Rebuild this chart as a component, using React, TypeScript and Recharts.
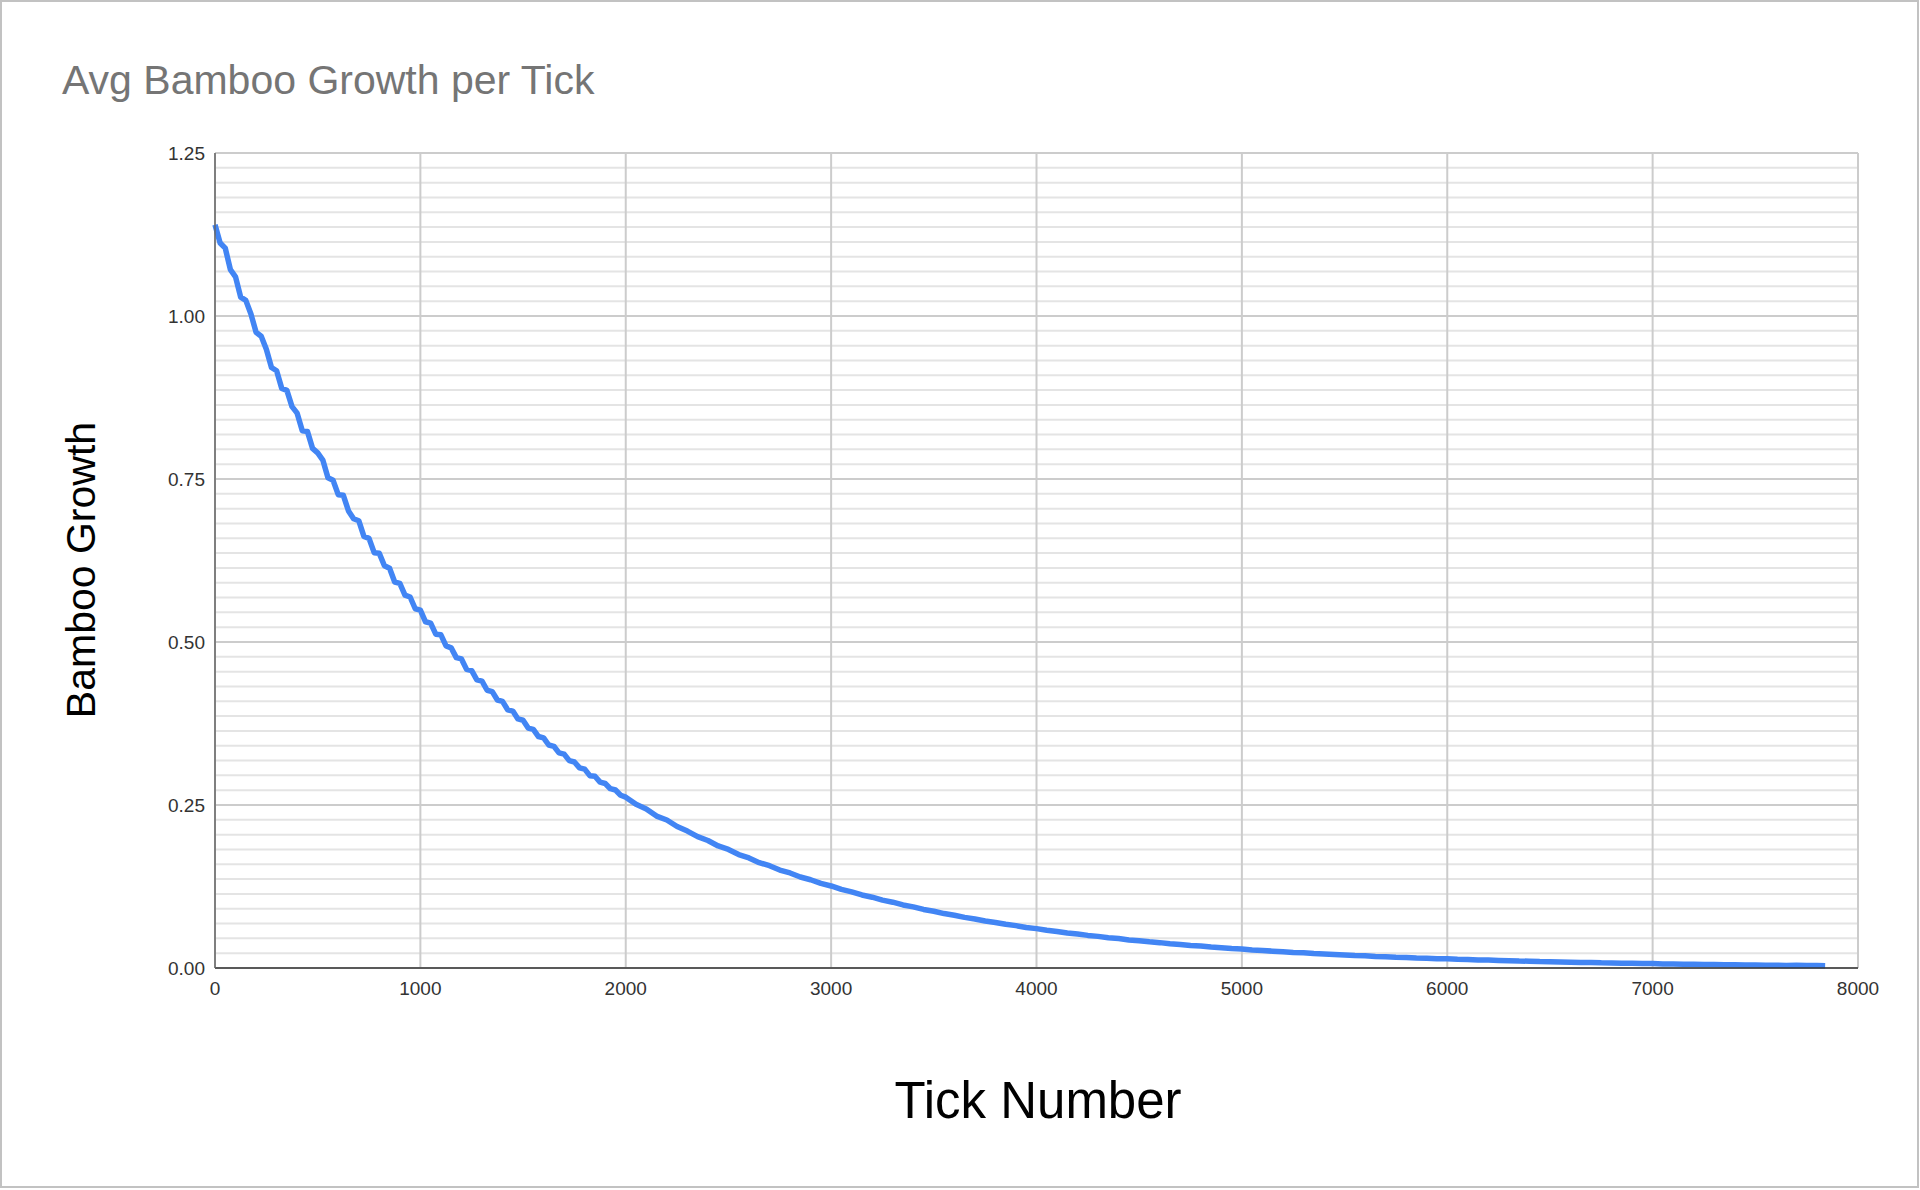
import React from 'react'
import {
  LineChart,
  Line,
  XAxis,
  YAxis,
  CartesianGrid,
} from 'recharts'

// tick number (x) for each sampled point
const tickNumbers = [
  0, 25, 50, 75, 100, 125, 150, 175, 200, 225, 250, 275, 300, 325, 350, 375, 400, 425, 450, 475,
  500, 525, 550, 575, 600, 625, 650, 675, 700, 725, 750, 775, 800, 825, 850, 875, 900, 925, 950, 975,
  1000, 1025, 1050, 1075, 1100, 1125, 1150, 1175, 1200, 1225, 1250, 1275, 1300, 1325, 1350, 1375, 1400, 1425, 1450, 1475,
  1500, 1525, 1550, 1575, 1600, 1625, 1650, 1675, 1700, 1725, 1750, 1775, 1800, 1825, 1850, 1875, 1900, 1925, 1950, 1975,
  2000, 2050, 2100, 2150, 2200, 2250, 2300, 2350, 2400, 2450, 2500, 2550, 2600, 2650, 2700, 2750, 2800, 2850, 2900, 2950, 3000,
  3050, 3100, 3150, 3200, 3250, 3300, 3350, 3400, 3450, 3500, 3550, 3600, 3650, 3700, 3750, 3800, 3850, 3900, 3950, 4000,
  4050, 4100, 4150, 4200, 4250, 4300, 4350, 4400, 4450, 4500, 4550, 4600, 4650, 4700, 4750, 4800, 4850, 4900, 4950, 5000,
  5050, 5100, 5150, 5200, 5250, 5300, 5350, 5400, 5450, 5500, 5550, 5600, 5650, 5700, 5750, 5800, 5850, 5900, 5950, 6000,
  6050, 6100, 6150, 6200, 6250, 6300, 6350, 6400, 6450, 6500, 6550, 6600, 6650, 6700, 6750, 6800, 6850, 6900, 6950, 7000,
  7050, 7100, 7150, 7200, 7250, 7300, 7350, 7400, 7450, 7500, 7550, 7600, 7650, 7700, 7750, 7800, 7840,
]

const avgGrowth = [
  1.140, 1.112, 1.104, 1.071, 1.060, 1.029, 1.024, 1.003, 0.975, 0.969, 0.949, 0.921, 0.916, 0.889, 0.886, 0.861, 0.851, 0.824, 0.823, 0.797,
  0.790, 0.779, 0.752, 0.748, 0.726, 0.725, 0.701, 0.689, 0.686, 0.662, 0.659, 0.637, 0.636, 0.617, 0.613, 0.592, 0.590, 0.572, 0.569, 0.551,
  0.549, 0.531, 0.529, 0.512, 0.511, 0.494, 0.491, 0.476, 0.474, 0.458, 0.456, 0.442, 0.440, 0.426, 0.424, 0.411, 0.409, 0.396, 0.394, 0.382,
  0.380, 0.368, 0.366, 0.355, 0.353, 0.342, 0.340, 0.330, 0.328, 0.318, 0.316, 0.307, 0.305, 0.295, 0.294, 0.285, 0.283, 0.275, 0.273, 0.265,
  0.262, 0.251, 0.244, 0.233, 0.227, 0.217, 0.210, 0.2015, 0.1955, 0.1872, 0.1818, 0.1740, 0.1688, 0.1616, 0.1569, 0.1502, 0.1458, 0.1396, 0.1354, 0.1297, 0.1258,
  0.1205, 0.1168, 0.1120, 0.1086, 0.1041, 0.1009, 0.0967, 0.0938, 0.0898, 0.0871, 0.0835, 0.0809, 0.0776, 0.0752, 0.0721, 0.0699, 0.0670, 0.0650, 0.0622, 0.0604,
  0.0579, 0.0561, 0.0537, 0.0522, 0.0500, 0.0485, 0.0464, 0.0451, 0.0431, 0.0419, 0.0401, 0.0389, 0.0372, 0.0361, 0.0346, 0.0336, 0.0321, 0.0312, 0.0298, 0.0290,
  0.0277, 0.0269, 0.0258, 0.0250, 0.0239, 0.0233, 0.0222, 0.0216, 0.0207, 0.0201, 0.0192, 0.0187, 0.0178, 0.0174, 0.0166, 0.0162, 0.0154, 0.0150, 0.0143, 0.0140,
  0.0133, 0.0130, 0.0123, 0.0121, 0.0115, 0.0112, 0.0106, 0.0105, 0.0099, 0.0097, 0.0092, 0.0090, 0.0085, 0.0084, 0.0079, 0.0078, 0.0073, 0.0073, 0.0068, 0.0068,
  0.0063, 0.0063, 0.0059, 0.0059, 0.0054, 0.0054, 0.0050, 0.0051, 0.0047, 0.0047, 0.0043, 0.0044, 0.0040, 0.0041, 0.0037, 0.0038, 0.0035,
]

const xTicks = [0, 1000, 2000, 3000, 4000, 5000, 6000, 7000, 8000]
const yTicks = [0, 0.25, 0.5, 0.75, 1.0, 1.25]
const minorPerMajor = 10

const chartData = tickNumbers.map((t, i) => ({ tick: t, growth: avgGrowth[i] }))

// minor horizontal gridlines: 10 between each pair of major ticks
const yMinor: number[] = []
for (let i = 0; i < yTicks.length - 1; i++) {
  const step = (yTicks[i + 1] - yTicks[i]) / (minorPerMajor + 1)
  for (let j = 1; j <= minorPerMajor; j++) yMinor.push(yTicks[i] + step * j)
}

const FONT = "Arial, 'Liberation Sans', sans-serif"
const W = 1920
const H = 1190

const App: React.FC = () => {
  return (
    <div style={{ position: 'absolute', left: 0, top: 0, width: W, height: H, background: '#fff' }}>
      <LineChart
        width={W}
        height={H}
        data={chartData}
        margin={{ top: 153, right: 62, left: 155, bottom: 192 }}
      >
        <CartesianGrid
          stroke="#e4e4e4"
          strokeWidth={2}
          vertical={false}
          horizontalValues={yMinor}
        />
        <CartesianGrid
          stroke="#cccccc"
          strokeWidth={2}
          horizontalValues={yTicks}
          verticalValues={xTicks}
        />
        <XAxis
          type="number"
          dataKey="tick"
          domain={[0, 8000]}
          ticks={xTicks}
          interval={0}
          height={30}
          tickLine={false}
          tickSize={6}
          tickMargin={8}
          axisLine={{ stroke: '#333', strokeWidth: 1.5 }}
          tick={{ fill: '#333', fontSize: 19, fontFamily: FONT }}
        />
        <YAxis
          type="number"
          domain={[0, 1.25]}
          ticks={yTicks}
          interval={0}
          width={60}
          tickLine={false}
          tickSize={6}
          tickMargin={4}
          axisLine={{ stroke: '#666', strokeWidth: 1.5 }}
          tickFormatter={(v: number) => v.toFixed(2)}
          tick={{ fill: '#333', fontSize: 19, fontFamily: FONT }}
        />
        <Line
          type="linear"
          dataKey="growth"
          stroke="#4285f4"
          strokeWidth={5.5}
          strokeLinejoin="round"
          dot={false}
          isAnimationActive={false}
        />
      </LineChart>
      <svg
        width={W}
        height={H}
        style={{ position: 'absolute', left: 0, top: 0, pointerEvents: 'none' }}
      >
        <rect x={1} y={1} width={1917} height={1186} fill="none" stroke="#c2c2c2" strokeWidth={2} />
        <text x={62} y={94} fontSize={41} fontFamily={FONT} fill="#757575">
          Avg Bamboo Growth per Tick
        </text>
        <text
          transform="translate(95, 570) rotate(-90)"
          textAnchor="middle"
          fontSize={41}
          fontFamily={FONT}
          fill="#000"
        >
          Bamboo Growth
        </text>
        <text x={1038} y={1118} textAnchor="middle" fontSize={51} fontFamily={FONT} fill="#000">
          Tick Number
        </text>
      </svg>
    </div>
  )
}

export default App
